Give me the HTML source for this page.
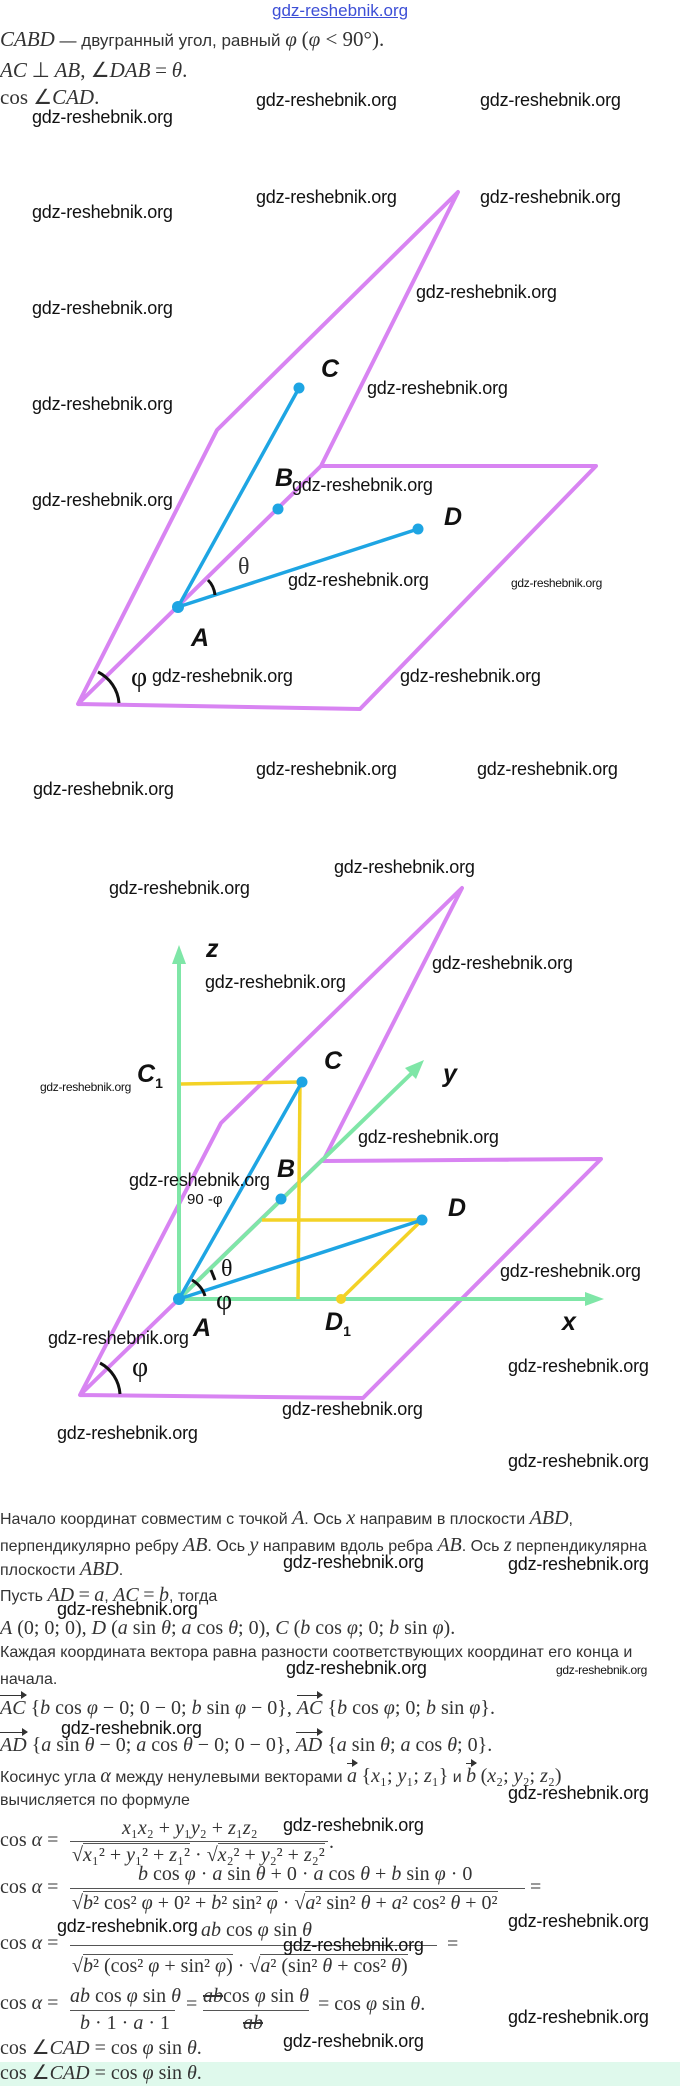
<!DOCTYPE html>
<html><head><meta charset="utf-8"><style>
body{margin:0;width:680px;height:2086px;position:relative;background:#fff;overflow:hidden;font-family:"Liberation Sans","DejaVu Sans",sans-serif;color:#333}
.t{position:absolute;white-space:nowrap;font-size:16px;line-height:20px;height:20px}
.m{font-family:"Liberation Serif",serif;font-size:20px}
.i{font-family:"Liberation Serif",serif;font-style:italic;font-size:20px}
.w{position:absolute;white-space:nowrap;font-family:"Liberation Sans",sans-serif;font-size:18px;line-height:20px;color:#111;letter-spacing:-0.2px}
.ws{font-size:12px;letter-spacing:-0.3px}
.lbl{position:absolute;font-family:"Liberation Sans",sans-serif;font-weight:bold;font-style:italic;font-size:25px;color:#111;line-height:26px}
.ln{position:absolute;height:1.3px;background:#555}
.hl{position:absolute;left:0;top:2062px;width:680px;height:24px;background:#dff9ec}
.ov{position:relative;display:inline-block}
.ov:before{content:"";position:absolute;left:0;right:0;top:-3px;border-top:1.3px solid #333}
.ov:after{content:"";position:absolute;right:-1px;top:-7px;border-left:6px solid #333;border-top:4px solid transparent;border-bottom:4px solid transparent}
.big{font-size:17px}
.big .i,.big .m{font-size:21px}
</style></head><body>
<div class="hl"></div>

<svg width="680" height="2086" style="position:absolute;left:0;top:0">
<g fill="none" stroke="#d884f2" stroke-width="4" stroke-linejoin="round">
 <polyline points="321,466 78,704 217,430 458,192 321,466 596,466 360,709 78,704"/>
 <polyline points="323,1159 80,1395 221,1123 462,888 323,1161 601,1159 363,1398 80,1395"/>
</g>
<g stroke="#1ea5e3" stroke-width="3.5"><line x1="178" y1="607" x2="299" y2="388"/><line x1="178" y1="607" x2="418" y2="529"/></g>
<g fill="#1ea5e3"><circle cx="299" cy="388" r="5.5"/><circle cx="278" cy="509" r="5.5"/><circle cx="178" cy="607" r="6"/><circle cx="418" cy="529" r="5.5"/></g>
<g fill="none" stroke="#111" stroke-width="3"><path d="M98 672 A38 38 0 0 1 119 703"/><path d="M208 580 Q214 586 215 595"/></g>
<g stroke="#7fe6a7" stroke-width="4"><line x1="179" y1="1299" x2="179" y2="960"/><line x1="179" y1="1299" x2="588" y2="1299"/><line x1="179" y1="1299" x2="414" y2="1071"/></g>
<g fill="#7fe6a7"><polygon points="179,945 172,964 186,964"/><polygon points="604,1299 585,1292 585,1306"/><polygon points="424,1060 405,1068 416,1079"/></g>
<g stroke="#f3d226" stroke-width="3.5" fill="none"><line x1="181" y1="1084" x2="302" y2="1082"/><line x1="300" y1="1082" x2="298" y2="1299"/><line x1="262" y1="1220" x2="422" y2="1220"/><line x1="422" y1="1220" x2="341" y2="1299"/></g>
<circle cx="341" cy="1299" r="5" fill="#f3d226"/>
<g stroke="#1ea5e3" stroke-width="3.5"><line x1="179" y1="1299" x2="302" y2="1082"/><line x1="179" y1="1299" x2="422" y2="1220"/></g>
<g fill="#1ea5e3"><circle cx="302" cy="1082" r="5.5"/><circle cx="281" cy="1199" r="5.5"/><circle cx="179" cy="1299" r="6"/><circle cx="422" cy="1220" r="5.5"/></g>
<g fill="none" stroke="#111" stroke-width="3"><path d="M100 1363 A38 38 0 0 1 120 1394"/><path d="M192 1280 Q202 1286 205 1296"/><line x1="211" y1="1270" x2="215" y2="1280"/></g>
</svg>

<div class="t" style="left:272px;top:1px;color:#3d4fd6;text-decoration:underline;font-size:17px">gdz-reshebnik.org</div>
<div class="t big" style="left:0;top:29px"><span class="i">CABD</span> — двугранный угол, равный <span class="i">φ</span> <span class="m">(<i>φ</i> &lt; 90°).</span></div>
<div class="t big" style="left:0;top:60px"><span class="i">AC</span> <span class="m">⊥</span> <span class="i">AB</span><span class="m">, ∠</span><span class="i">DAB</span> <span class="m">=</span> <span class="i">θ</span><span class="m">.</span></div>
<div class="t big" style="left:0;top:87px"><span class="m">cos ∠</span><span class="i">CAD</span><span class="m">.</span></div>

<div class="lbl" style="left:321px;top:356px">C</div>
<div class="lbl" style="left:275px;top:465px">B</div>
<div class="lbl" style="left:444px;top:504px">D</div>
<div class="lbl" style="left:191px;top:625px">A</div>
<div class="t m" style="left:238px;top:554px;font-size:24px;height:26px;line-height:26px">θ</div>
<div class="t m" style="left:131px;top:663px;font-size:28px;height:30px;line-height:30px;color:#111">φ</div>

<div class="lbl" style="left:206px;top:936px">z</div>
<div class="lbl" style="left:137px;top:1061px">C<sub style="font-size:14px;font-style:normal">1</sub></div>
<div class="lbl" style="left:324px;top:1048px">C</div>
<div class="lbl" style="left:443px;top:1061px">y</div>
<div class="lbl" style="left:277px;top:1156px">B</div>
<div class="lbl" style="left:448px;top:1195px">D</div>
<div class="t" style="left:187px;top:1190px;font-size:15px;color:#111">90 -φ</div>
<div class="t m" style="left:221px;top:1256px;font-size:24px;height:26px;line-height:26px;color:#111">θ</div>
<div class="t m" style="left:216px;top:1286px;font-size:28px;height:30px;line-height:30px;color:#111">φ</div>
<div class="lbl" style="left:193px;top:1315px">A</div>
<div class="lbl" style="left:325px;top:1309px">D<sub style="font-size:14px;font-style:normal">1</sub></div>
<div class="lbl" style="left:562px;top:1309px">x</div>
<div class="t m" style="left:132px;top:1353px;font-size:28px;height:30px;line-height:30px;color:#111">φ</div>

<div class="t" style="left:0;top:1508px">Начало координат совместим с точкой <span class="i">A</span>. Ось <span class="i">x</span> направим в плоскости <span class="i">ABD</span>,</div>
<div class="t" style="left:0;top:1535px">перпендикулярно ребру <span class="i">AB</span>. Ось <span class="i">y</span> направим вдоль ребра <span class="i">AB</span>. Ось <span class="i">z</span> перпендикулярна</div>
<div class="t" style="left:0;top:1559px">плоскости <span class="i">ABD</span>.</div>
<div class="t" style="left:0;top:1585px">Пусть <span class="i">AD</span> <span class="m">=</span> <span class="i">a</span>, <span class="i">AC</span> <span class="m">=</span> <span class="i">b</span>, тогда</div>
<div class="t m" style="left:0;top:1618px"><i>A</i> (0; 0; 0), <i>D</i> (<i>a</i> sin <i>θ</i>; <i>a</i> cos <i>θ</i>; 0), <i>C</i> (<i>b</i> cos <i>φ</i>; 0; <i>b</i> sin <i>φ</i>).</div>
<div class="t" style="left:0;top:1643px">Каждая координата вектора равна разности соответствующих координат его конца и</div>
<div class="t" style="left:0;top:1670px">начала.</div>
<div class="t m" style="left:0;top:1698px"><span class="ov"><i>AC</i></span> {<i>b</i> cos <i>φ</i> − 0; 0 − 0; <i>b</i> sin <i>φ</i> − 0}, <span class="ov"><i>AC</i></span> {<i>b</i> cos <i>φ</i>; 0; <i>b</i> sin <i>φ</i>}.</div>
<div class="t m" style="left:0;top:1735px"><span class="ov"><i>AD</i></span> {<i>a</i> sin <i>θ</i> − 0; <i>a</i> cos <i>θ</i> − 0; 0 − 0}, <span class="ov"><i>AD</i></span> {<i>a</i> sin <i>θ</i>; <i>a</i> cos <i>θ</i>; 0}.</div>
<div class="t" style="left:0;top:1766px">Косинус угла <span class="i">α</span> между ненулевыми векторами <span class="ov"><i class="m">a</i></span> <span class="m">{<i>x</i>₁; <i>y</i>₁; <i>z</i>₁}</span> и <span class="ov"><i class="m">b</i></span> <span class="m">(<i>x</i>₂; <i>y</i>₂; <i>z</i>₂)</span></div>
<div class="t" style="left:0;top:1791px">вычисляется по формуле</div>

<div class="t m" style="left:0;top:1830px">cos <i>α</i> =</div>
<div class="t m" style="left:122px;top:1818px"><i>x</i>₁<i>x</i>₂ + <i>y</i>₁<i>y</i>₂ + <i>z</i>₁<i>z</i>₂</div>
<div class="ln" style="left:70px;top:1841px;width:258px"></div>
<div class="t m" style="left:72px;top:1845px">√<span style="border-top:1px solid #555"><i>x</i>₁² + <i>y</i>₁² + <i>z</i>₁²</span> · √<span style="border-top:1px solid #555"><i>x</i>₂² + <i>y</i>₂² + <i>z</i>₂²</span></div>
<div class="t m" style="left:329px;top:1832px">.</div>

<div class="t m" style="left:0;top:1877px">cos <i>α</i> =</div>
<div class="t m" style="left:138px;top:1864px"><i>b</i> cos <i>φ</i> · <i>a</i> sin <i>θ</i> + 0 · <i>a</i> cos <i>θ</i> + <i>b</i> sin <i>φ</i> · 0</div>
<div class="ln" style="left:70px;top:1888px;width:455px"></div>
<div class="t m" style="left:72px;top:1893px">√<span style="border-top:1px solid #555"><i>b</i>² cos² <i>φ</i> + 0² + <i>b</i>² sin² <i>φ</i></span> · √<span style="border-top:1px solid #555"><i>a</i>² sin² <i>θ</i> + <i>a</i>² cos² <i>θ</i> + 0²</span></div>
<div class="t m" style="left:530px;top:1877px">=</div>

<div class="t m" style="left:0;top:1933px">cos <i>α</i> =</div>
<div class="t m" style="left:201px;top:1920px"><i>ab</i> cos <i>φ</i> sin <i>θ</i></div>
<div class="ln" style="left:70px;top:1945px;width:367px"></div>
<div class="t m" style="left:72px;top:1956px">√<span style="border-top:1px solid #555"><i>b</i>² (cos² <i>φ</i> + sin² <i>φ</i>)</span> · √<span style="border-top:1px solid #555"><i>a</i>² (sin² <i>θ</i> + cos² <i>θ</i>)</span></div>
<div class="t m" style="left:447px;top:1934px">=</div>

<div class="t m" style="left:0;top:1993px">cos <i>α</i> =</div>
<div class="t m" style="left:70px;top:1986px"><i>ab</i> cos <i>φ</i> sin <i>θ</i></div>
<div class="ln" style="left:70px;top:2010px;width:105px"></div>
<div class="t m" style="left:80px;top:2013px"><i>b</i> · 1 · <i>a</i> · 1</div>
<div class="t m" style="left:186px;top:1994px">=</div>
<div class="t m" style="left:203px;top:1986px"><i style="text-decoration:line-through">ab</i>cos <i>φ</i> sin <i>θ</i></div>
<div class="ln" style="left:203px;top:2010px;width:106px"></div>
<div class="t m" style="left:243px;top:2013px"><i style="text-decoration:line-through">ab</i></div>
<div class="t m" style="left:318px;top:1994px">= cos <i>φ</i> sin <i>θ</i>.</div>

<div class="t m" style="left:0;top:2038px">cos ∠<i>CAD</i> = cos <i>φ</i> sin <i>θ</i>.</div>
<div class="t m" style="left:0;top:2063px">cos ∠<i>CAD</i> = cos <i>φ</i> sin <i>θ</i>.</div>

<div class="w" style="left:256px;top:90px">gdz-reshebnik.org</div>
<div class="w" style="left:480px;top:90px">gdz-reshebnik.org</div>
<div class="w" style="left:32px;top:107px">gdz-reshebnik.org</div>
<div class="w" style="left:256px;top:187px">gdz-reshebnik.org</div>
<div class="w" style="left:480px;top:187px">gdz-reshebnik.org</div>
<div class="w" style="left:32px;top:202px">gdz-reshebnik.org</div>
<div class="w" style="left:416px;top:282px">gdz-reshebnik.org</div>
<div class="w" style="left:32px;top:298px">gdz-reshebnik.org</div>
<div class="w" style="left:367px;top:378px">gdz-reshebnik.org</div>
<div class="w" style="left:32px;top:394px">gdz-reshebnik.org</div>
<div class="w" style="left:292px;top:475px">gdz-reshebnik.org</div>
<div class="w" style="left:32px;top:490px">gdz-reshebnik.org</div>
<div class="w" style="left:288px;top:570px">gdz-reshebnik.org</div>
<div class="w ws" style="left:511px;top:573px">gdz-reshebnik.org</div>
<div class="w" style="left:152px;top:666px">gdz-reshebnik.org</div>
<div class="w" style="left:400px;top:666px">gdz-reshebnik.org</div>
<div class="w" style="left:256px;top:759px">gdz-reshebnik.org</div>
<div class="w" style="left:477px;top:759px">gdz-reshebnik.org</div>
<div class="w" style="left:33px;top:779px">gdz-reshebnik.org</div>

<div class="w" style="left:334px;top:857px">gdz-reshebnik.org</div>
<div class="w" style="left:109px;top:878px">gdz-reshebnik.org</div>
<div class="w" style="left:432px;top:953px">gdz-reshebnik.org</div>
<div class="w" style="left:205px;top:972px">gdz-reshebnik.org</div>
<div class="w ws" style="left:40px;top:1077px">gdz-reshebnik.org</div>
<div class="w" style="left:358px;top:1127px">gdz-reshebnik.org</div>
<div class="w" style="left:129px;top:1170px">gdz-reshebnik.org</div>
<div class="w" style="left:500px;top:1261px">gdz-reshebnik.org</div>
<div class="w" style="left:48px;top:1328px">gdz-reshebnik.org</div>
<div class="w" style="left:508px;top:1356px">gdz-reshebnik.org</div>
<div class="w" style="left:282px;top:1399px">gdz-reshebnik.org</div>
<div class="w" style="left:57px;top:1423px">gdz-reshebnik.org</div>
<div class="w" style="left:508px;top:1451px">gdz-reshebnik.org</div>

<div class="w" style="left:283px;top:1552px">gdz-reshebnik.org</div>
<div class="w" style="left:508px;top:1554px">gdz-reshebnik.org</div>
<div class="w" style="left:57px;top:1599px">gdz-reshebnik.org</div>
<div class="w" style="left:286px;top:1658px">gdz-reshebnik.org</div>
<div class="w ws" style="left:556px;top:1660px">gdz-reshebnik.org</div>
<div class="w" style="left:61px;top:1718px">gdz-reshebnik.org</div>
<div class="w" style="left:508px;top:1783px">gdz-reshebnik.org</div>
<div class="w" style="left:283px;top:1815px">gdz-reshebnik.org</div>
<div class="w" style="left:57px;top:1916px">gdz-reshebnik.org</div>
<div class="w" style="left:508px;top:1911px">gdz-reshebnik.org</div>
<div class="w" style="left:283px;top:1935px">gdz-reshebnik.org</div>
<div class="w" style="left:508px;top:2007px">gdz-reshebnik.org</div>
<div class="w" style="left:283px;top:2031px">gdz-reshebnik.org</div>
</body></html>
